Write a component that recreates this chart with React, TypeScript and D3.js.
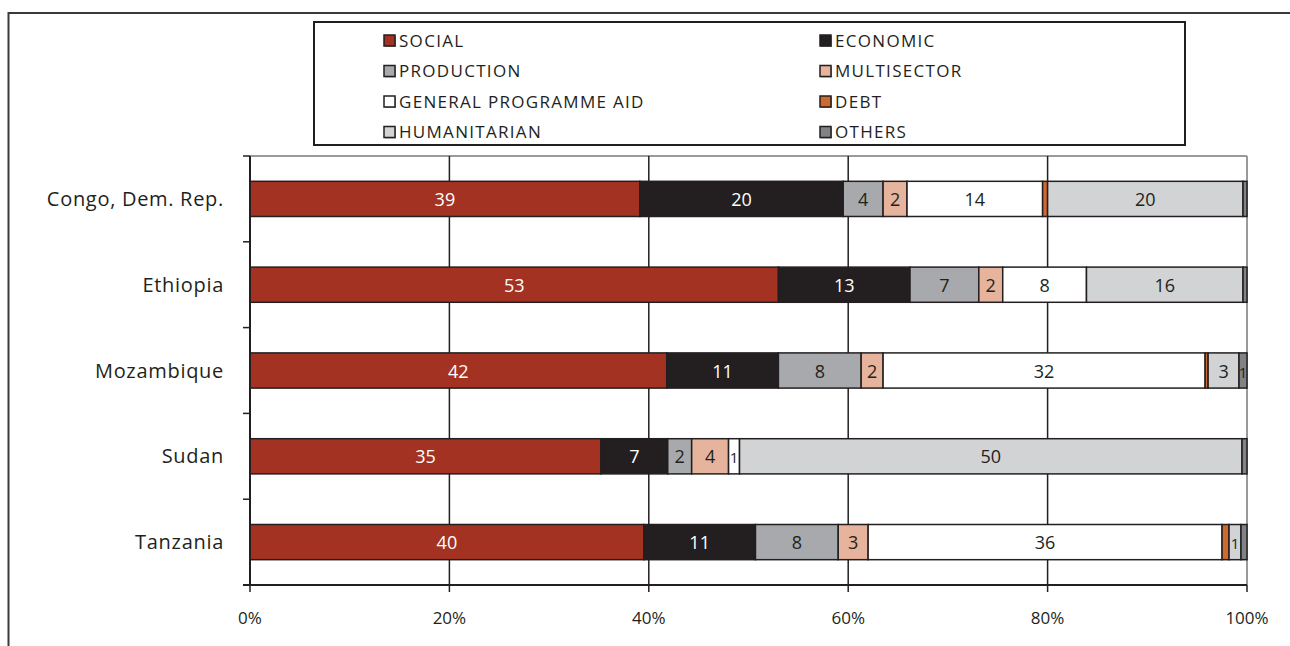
import React from "react";
import * as d3 from "d3";

const countries = ["Congo, Dem. Rep.", "Ethiopia", "Mozambique", "Sudan", "Tanzania"];
const sectors = ["SOCIAL", "ECONOMIC", "PRODUCTION", "MULTISECTOR", "GENERAL PROGRAMME AID", "DEBT", "HUMANITARIAN", "OTHERS"];
const social = [39.1, 53.0, 41.8, 35.2, 39.5];
const economic = [20.4, 13.2, 11.2, 6.7, 11.2];
const production = [4.0, 6.9, 8.3, 2.4, 8.3];
const multisector = [2.4, 2.4, 2.2, 3.7, 3.0];
const generalProgrammeAid = [13.6, 8.4, 32.3, 1.1, 35.5];
const debt = [0.5, 0.0, 0.3, 0.0, 0.7];
const humanitarian = [19.6, 15.7, 3.1, 50.4, 1.2];
const others = [0.4, 0.4, 0.8, 0.5, 0.6];
const xTicks = [0, 20, 40, 60, 80, 100];

const series = [social, economic, production, multisector, generalProgrammeAid, debt, humanitarian, others];
const colors = ["#a33222", "#231f20", "#a7a9ac", "#e6b39d", "#ffffff", "#cf6a2f", "#d1d3d4", "#808285"];
const labelColors = ["#ffffff", "#ffffff", "#231f20", "#231f20", "#231f20", "#231f20", "#231f20", "#231f20"];

const W = 1290;
const H = 646;
const left = 250;
const right = 1247;
const top = 156;
const bottom = 585;
const font = "'Open Sans', Lato, sans-serif";

export default function App() {
  const x = d3.scaleLinear().domain([0, 100]).range([left, right]);
  const y = d3.scaleBand<string>().domain(countries).range([top, bottom]).paddingInner(0.59).paddingOuter(0.295);
  const step = (bottom - top) / countries.length;
  const boundaries = d3.range(countries.length + 1).map((i) => top + i * step);

  const stackData = countries.map((c, i) => {
    const obj: any = { country: c };
    sectors.forEach((s, j) => (obj[s] = series[j][i]));
    return obj;
  });
  const stacked = d3.stack<any>().keys(sectors)(stackData);

  const legendRows = [
    [0, 1],
    [2, 3],
    [4, 5],
    [6, 7],
  ];

  return (
    <svg width={W} height={H} style={{ position: "absolute", left: 0, top: 0, background: "#fff" }} fontFamily={font}>
      <rect x={0} y={0} width={W} height={H} fill="#fff" />
      {/* outer frame */}
      <rect x={8.5} y={13} width={1400} height={800} fill="none" stroke="#3a3a3a" strokeWidth={2} />
      {/* legend */}
      <rect x={314} y={22} width={871} height={123} fill="#fff" stroke="#231f20" strokeWidth={2} />
      {legendRows.map((row, r) =>
        row.map((k, c) => {
          const lx = c === 0 ? 384 : 820;
          const ly = 40 + r * 30.5;
          return (
            <g key={k}>
              <rect x={lx + 1} y={ly - 5 + 1} width={11} height={11} fill="#9a9a9a" />
              <rect x={lx} y={ly - 5} width={11} height={11} fill={colors[k]} stroke="#231f20" strokeWidth={1.5} />
              <text x={lx + 15} y={ly + 6.5} fontSize={17} fill="#231f20" fontFamily="'Open Sans', sans-serif" letterSpacing={1.3}>
                {sectors[k]}
              </text>
            </g>
          );
        })
      )}
      {/* plot border top/right */}
      <line x1={left} x2={right} y1={top} y2={top} stroke="#9a9a9a" strokeWidth={2} />
      <line x1={right} x2={right} y1={top} y2={bottom} stroke="#9a9a9a" strokeWidth={2} />
      {/* gridlines */}
      {xTicks.slice(1, -1).map((t) => (
        <line key={t} x1={x(t)} x2={x(t)} y1={top} y2={bottom} stroke="#231f20" strokeWidth={1.5} />
      ))}
      {/* bars */}
      {stacked.map((layer, j) =>
        layer.map((d, i) => {
          const x0 = x(d[0]);
          const x1 = x(d[1]);
          const by = y(countries[i])!;
          const bh = y.bandwidth();
          const v = series[j][i];
          if (v <= 0) return null;
          return (
            <g key={`${j}-${i}`}>
              <rect x={x0} y={by} width={x1 - x0} height={bh} fill={colors[j]} stroke="#231f20" strokeWidth={1.5} />
              {v >= 0.75 && (
                <text
                  x={(x0 + x1) / 2}
                  y={by + bh / 2 + 7}
                  textAnchor="middle"
                  fontSize={v < 1.5 ? 15 : 18}
                  fill={labelColors[j]}
                >
                  {Math.round(v)}
                </text>
              )}
            </g>
          );
        })
      )}
      {/* y axis */}
      <line x1={left} x2={left} y1={top} y2={bottom} stroke="#231f20" strokeWidth={2} />
      {boundaries.map((b, i) => (
        <line key={i} x1={243} x2={left} y1={b} y2={b} stroke="#231f20" strokeWidth={1.5} />
      ))}
      {countries.map((c) => (
        <text key={c} x={224} y={y(c)! + y.bandwidth() / 2 + 7} textAnchor="end" fontSize={20} fill="#231f20" letterSpacing={0.7}>
          {c}
        </text>
      ))}
      {/* x axis */}
      <line x1={left - 7} x2={right} y1={bottom} y2={bottom} stroke="#231f20" strokeWidth={2} />
      {xTicks.map((t) => (
        <g key={t}>
          <line x1={x(t)} x2={x(t)} y1={bottom} y2={bottom + 7} stroke="#231f20" strokeWidth={1.5} />
          <text x={x(t)} y={624} textAnchor="middle" fontSize={17} fill="#231f20">
            {t}%
          </text>
        </g>
      ))}
    </svg>
  );
}
